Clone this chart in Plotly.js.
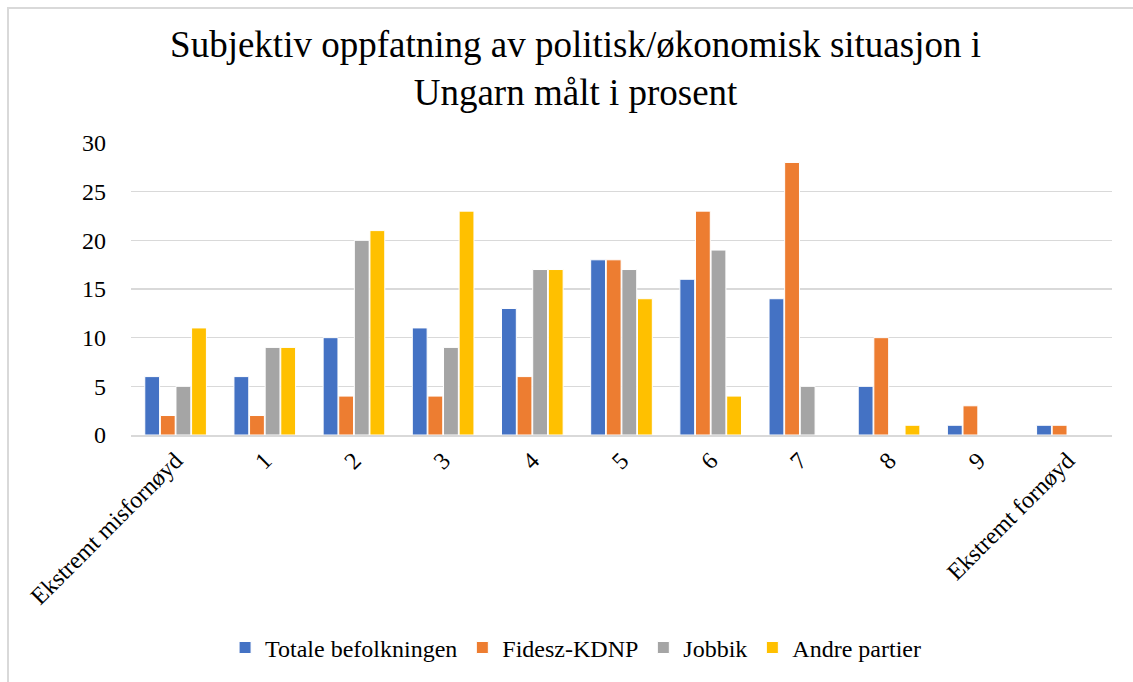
<!DOCTYPE html>
<html><head><meta charset="utf-8">
<script src="https://cdn.plot.ly/plotly-3.0.1.min.js"></script>
<style>body{margin:0;background:#fff}#frame{position:absolute;left:7px;top:7px;width:1200px;height:800px;border-left:2px solid #d9d9d9;border-top:2px solid #d9d9d9;pointer-events:none}</style>
</head><body>
<div id="chart" style="width:1133px;height:682px"></div>
<div id="frame"></div>
<script>
const categories = ["Ekstremt misfornøyd","1","2","3","4","5","6","7","8","9","Ekstremt fornøyd"];
const totale = [6,6,10,11,13,18,16,14,5,1,1];
const fidesz = [2,2,4,4,6,18,23,28,10,3,1];
const jobbik = [5,9,20,9,17,17,19,5,0,0,0];
const andre = [11,9,21,23,17,14,4,0,1,0,0];
const seriesNames = ["Totale befolkningen","Fidesz-KDNP","Jobbik","Andre partier"];
const colors = ["#4472c4","#ed7d31","#a5a5a5","#ffc000"];
const vals = [totale,fidesz,jobbik,andre];
const fam = "'Liberation Serif', 'Times New Roman', serif";
const data = vals.map((v,i)=>({type:'bar',x:categories,y:v,name:seriesNames[i],
  marker:{color:colors[i],line:{color:'#ffffff',width:1}},hoverinfo:'skip'}));
const layout = {
  width:1133,height:682,
  margin:{l:131,r:21,t:143,b:247},
  paper_bgcolor:'#fff',plot_bgcolor:'#fff',
  font:{family:fam,color:'#000',size:24},
  title:{text:"Subjektiv oppfatning av politisk/økonomisk situasjon i<br>Ungarn målt i prosent",
    font:{family:fam,size:37,color:'#000'},xref:'container',x:0.508,xanchor:'center',yref:'container',y:0.916,yanchor:'top'},
  barmode:'group',bargap:0.3,bargroupgap:0.05,
  xaxis:{type:'category',tickangle:-45,tickfont:{family:fam,size:24,color:'#000'},showgrid:false,showline:true,linecolor:'#d9d9d9',linewidth:2,ticks:'',zeroline:false},
  yaxis:{range:[0,30],dtick:5,showgrid:true,gridcolor:'#d9d9d9',gridwidth:1.5,zeroline:false,showline:false,tickfont:{family:fam,size:24,color:'#000'},ticklabelstandoff:24},
  showlegend:true,
  legend:{orientation:'h',x:0.508,xref:'container',xanchor:'center',y:0.05,yref:'container',yanchor:'middle',font:{family:fam,size:24,color:'#000'},itemwidth:30,traceorder:'normal'}
};
Plotly.newPlot('chart',data,layout,{displayModeBar:false,staticPlot:true});
</script>
</body></html>
